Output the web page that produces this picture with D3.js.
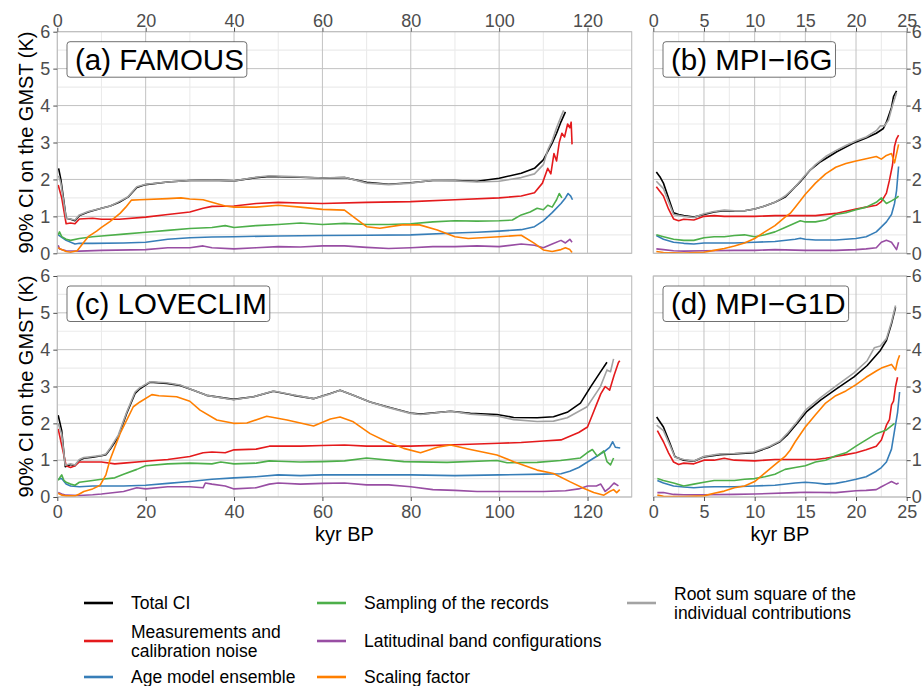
<!DOCTYPE html>
<html>
<head>
<meta charset="utf-8">
<script src="https://cdn.jsdelivr.net/npm/d3@7"></script>
<style>
  body { margin: 0; background: #fff; }
  text { font-family: "Liberation Sans", Arial, Helvetica, sans-serif; }
</style>
</head>
<body>
<svg id="chart" width="923" height="686"></svg>
<script>
// ---- series labels and colours (legend order) ----
const seriesLabels = [
  ["Total CI"],
  ["Measurements and", "calibration noise"],
  ["Age model ensemble"],
  ["Sampling of the records"],
  ["Latitudinal band configurations"],
  ["Scaling factor"],
  ["Root sum square of the", "individual contributions"]
];
const seriesColors = ["#000000", "#e41a1c", "#377eb8", "#4daf4a", "#984ea3", "#ff7f00", "#a3a3a3"];

// ---- (a) FAMOUS : [kyr BP, K] ----
const famousTotal = [[0.3,2.3],[0.8,2.0],[1.5,1.4],[2,0.95],[3,0.92],[4,0.88],[5,1.02],[7,1.12],[10,1.22],[12,1.28],[14,1.38],[16,1.52],[18,1.78],[20,1.86],[25,1.93],[30,1.97],[35,1.98],[40,1.96],[45,2.05],[48,2.08],[55,2.06],[60,2.04],[65,2.05],[70,1.92],[75,1.87],[80,1.91],[85,1.97],[90,1.97],[95,1.95],[100,2.03],[105,2.17],[108,2.3],[110,2.53],[112,2.98],[113,3.25],[114,3.56],[115,3.83]];
const famousNoise = [[0.2,1.85],[1,1.5],[2,0.8],[3,0.82],[4,0.8],[5,0.93],[8,0.95],[10,0.92],[14,0.92],[20,0.98],[25,1.05],[30,1.12],[33,1.22],[35,1.27],[40,1.28],[45,1.35],[50,1.38],[55,1.36],[60,1.35],[70,1.38],[80,1.4],[90,1.45],[100,1.5],[105,1.55],[108,1.64],[109.8,1.9],[111,2.3],[111.7,2.15],[112.4,2.7],[113,2.5],[113.6,3.0],[114.2,3.25],[114.8,3.15],[115.5,3.5],[116,3.4],[116.3,3.55],[116.5,2.95]];
const famousAge = [[0.2,0.5],[2,0.35],[4,0.25],[5,0.27],[8,0.27],[15,0.28],[20,0.3],[25,0.38],[30,0.42],[35,0.44],[40,0.45],[50,0.47],[60,0.48],[70,0.49],[80,0.5],[90,0.55],[95,0.57],[100,0.6],[105,0.64],[108,0.72],[110,0.88],[112,1.1],[114,1.35],[115,1.5],[115.6,1.62],[116.2,1.55],[116.6,1.45]];
const famousSampling = [[0.2,0.5],[0.5,0.58],[1,0.45],[2,0.38],[3,0.35],[5,0.4],[8,0.45],[10,0.47],[15,0.52],[20,0.57],[25,0.62],[30,0.67],[35,0.7],[38,0.75],[40,0.7],[45,0.75],[50,0.78],[55,0.82],[60,0.78],[65,0.81],[70,0.78],[75,0.78],[80,0.8],[85,0.85],[90,0.88],[95,0.87],[100,0.88],[103,0.9],[105,1.04],[107,1.12],[108.6,1.22],[110,1.18],[111,1.3],[112,1.25],[113,1.45],[113.6,1.62],[114.2,1.5]];
const famousBands = [[0.2,0.22],[0.5,0.12],[1,0.1],[2,0.07],[5,0.06],[10,0.08],[20,0.1],[25,0.15],[30,0.15],[33,0.2],[35,0.15],[40,0.12],[45,0.15],[50,0.18],[55,0.17],[60,0.2],[65,0.2],[70,0.16],[75,0.13],[80,0.15],[85,0.18],[90,0.18],[95,0.2],[100,0.18],[105,0.25],[108,0.22],[110,0.15],[112,0.25],[114,0.35],[115,0.28],[116,0.38],[116.5,0.3]];
const famousScaling = [[0.2,0.15],[1,0.1],[2,0.05],[3,0.03],[4.5,0.07],[6,0.3],[7,0.45],[8.9,0.6],[10,0.7],[11.9,0.86],[14.2,1.08],[15.5,1.25],[16.8,1.44],[18.7,1.45],[25,1.48],[28,1.5],[30,1.47],[33,1.45],[35,1.38],[38,1.28],[40,1.25],[45,1.25],[50,1.3],[55,1.25],[60,1.19],[65,1.17],[68,0.9],[70,0.72],[73,0.68],[78,0.77],[82,0.77],[86,0.63],[90,0.45],[93,0.4],[100,0.45],[105,0.49],[108,0.27],[110,0.09],[112,0.05],[114,0.1],[115,0.15],[116,0.1],[116.5,0.02]];
const famousRss = [[0.3,2.1],[0.8,1.9],[1.5,1.35],[2,0.95],[3,0.93],[4,0.9],[5,1.04],[7,1.13],[10,1.22],[12,1.28],[14,1.4],[16,1.53],[18,1.8],[20,1.87],[25,1.93],[30,1.97],[35,1.98],[40,1.96],[45,2.06],[48,2.1],[55,2.07],[60,2.04],[65,2.06],[70,1.9],[75,1.86],[80,1.9],[85,1.98],[90,1.96],[95,1.93],[100,1.95],[105,2.05],[108,2.15],[110,2.4],[111,2.8],[112,3.05],[113,3.4],[114,3.7],[114.6,3.87]];

// ---- (b) MPI-I6G ----
const i6gTotal = [[0.3,2.2],[0.7,2.05],[1,1.9],[1.5,1.5],[2,1.1],[2.5,1.05],[3,1.02],[4,0.98],[5,1.05],[6,1.12],[7,1.15],[8,1.15],[9,1.15],[10,1.2],[11,1.28],[12,1.38],[13,1.52],[14,1.8],[14.5,1.94],[15.5,2.26],[16.5,2.48],[18.1,2.75],[19.7,2.98],[21,3.12],[22,3.25],[22.7,3.38],[23,3.55],[23.5,3.95],[23.7,4.24],[24,4.4]];
const i6gNoise = [[0.3,1.8],[1,1.55],[1.5,1.2],[2,0.93],[2.5,0.88],[3,0.92],[4,0.9],[5,1.0],[6,1.02],[7,1.0],[8,1.0],[10,1.0],[12,1.02],[14,1.02],[16,1.02],[18,1.08],[20,1.2],[21,1.25],[22,1.3],[22.5,1.4],[23,1.63],[23.3,1.98],[23.6,2.39],[23.8,2.9],[24,3.1],[24.2,3.2]];
const i6gAge = [[0.3,0.48],[1,0.38],[2,0.3],[3,0.27],[4,0.25],[5,0.28],[8,0.28],[10,0.3],[12,0.32],[14,0.38],[14.5,0.41],[15,0.38],[16,0.36],[18,0.36],[20,0.4],[21,0.45],[22,0.58],[23,0.85],[23.5,1.05],[23.8,1.35],[24,1.7],[24.2,2.35]];
const i6gSampling = [[0.3,0.5],[1,0.45],[2,0.38],[3,0.35],[4,0.35],[5,0.42],[6,0.45],[7,0.45],[8,0.48],[9,0.5],[10,0.45],[11,0.5],[12,0.58],[13,0.7],[14,0.82],[14.5,0.88],[15,0.85],[16,0.85],[17,0.9],[18,1.05],[19,1.1],[20,1.18],[21,1.25],[22,1.38],[22.5,1.5],[23,1.35],[23.5,1.42],[24,1.5],[24.2,1.55]];
const i6gBands = [[0.3,0.12],[1,0.1],[2,0.07],[3,0.06],[5,0.07],[8,0.08],[10,0.08],[12,0.1],[15,0.08],[18,0.08],[20,0.1],[21,0.12],[22,0.15],[22.5,0.3],[23,0.35],[23.5,0.3],[24,0.1],[24.2,0.3]];
const i6gScaling = [[0.3,0.05],[1,0.02],[3,0.01],[5,0.03],[6,0.08],[7,0.13],[8,0.2],[9,0.28],[10,0.4],[11,0.58],[12,0.75],[13,0.98],[13.5,1.08],[14,1.25],[14.5,1.42],[15,1.6],[16,1.9],[17,2.15],[18,2.33],[19,2.43],[20,2.5],[21,2.56],[22,2.62],[22.5,2.55],[23,2.65],[23.5,2.7],[23.8,2.45],[24,2.7],[24.2,2.95]];
const i6gRss = [[0.3,1.95],[1,1.75],[1.5,1.4],[2,1.05],[3,1.0],[4,0.97],[5,1.07],[6,1.13],[7,1.17],[8,1.15],[9,1.15],[10,1.2],[11,1.28],[12,1.38],[13,1.55],[14,1.8],[15,2.12],[16,2.4],[17,2.62],[18,2.78],[19,2.92],[20,3.05],[21,3.15],[22,3.32],[22.4,3.45],[22.8,3.45],[23.2,3.6],[23.6,4.0],[24,4.35]];

// ---- (c) LOVECLIM ----
const lcTotal = [[0.2,2.22],[1,1.8],[1.8,0.82],[3,0.88],[4,0.85],[5,1.0],[6,1.05],[8,1.08],[10,1.12],[11,1.15],[12,1.3],[13.8,1.63],[15.7,2.27],[17.6,2.81],[18.7,2.94],[21,3.12],[24.8,3.08],[27.8,3.03],[30.8,2.9],[33.8,2.76],[39.9,2.65],[44.4,2.72],[48.9,2.87],[53.5,2.76],[58,2.67],[61.8,2.81],[64,2.9],[67,2.76],[70.8,2.58],[74.6,2.45],[79.9,2.28],[82.2,2.25],[89,2.33],[93.5,2.27],[99.5,2.24],[103.3,2.16],[108.6,2.15],[112.3,2.18],[115.4,2.3],[118.4,2.55],[120.7,2.99],[122.9,3.39],[124.4,3.66]];
const lcNoise = [[0.2,1.85],[1,1.4],[2,0.85],[3,0.8],[4,0.85],[5,0.95],[10,0.95],[13,0.9],[15,0.92],[20,0.97],[25,1.02],[30,1.1],[33,1.2],[35,1.22],[38,1.2],[40,1.28],[45,1.3],[48,1.38],[55,1.38],[60,1.4],[65,1.41],[70,1.38],[80,1.38],[90,1.42],[100,1.46],[105,1.48],[110,1.52],[114,1.55],[116,1.65],[118,1.75],[120,1.9],[121,2.2],[122,2.5],[123,2.8],[124,3.0],[125,2.9],[126,3.3],[127,3.65],[127.3,3.7]];
const lcAge = [[0.2,0.48],[1,0.5],[2,0.35],[3,0.3],[5,0.28],[8,0.3],[15,0.3],[20,0.32],[25,0.37],[30,0.42],[35,0.48],[40,0.52],[45,0.55],[50,0.6],[55,0.58],[60,0.6],[70,0.6],[80,0.6],[90,0.58],[100,0.6],[110,0.62],[114,0.63],[116,0.7],[118,0.8],[120,0.95],[122,1.1],[124,1.25],[125,1.35],[125.7,1.5],[126.3,1.35],[127.4,1.33]];
const lcSampling = [[0.2,0.45],[0.7,0.55],[1,0.6],[1.5,0.45],[2,0.4],[3,0.35],[4,0.32],[5,0.4],[8,0.45],[10,0.48],[13,0.52],[15,0.62],[18,0.75],[20,0.85],[25,0.9],[30,0.92],[35,0.9],[37,0.95],[40,0.9],[45,0.92],[48,0.98],[50,0.97],[55,0.95],[60,0.96],[65,0.98],[70,1.06],[78.4,0.96],[88.2,0.94],[99.5,0.99],[101.8,0.93],[108.6,0.94],[113.9,0.99],[118.4,1.06],[119.9,1.2],[121.1,1.29],[122.2,1.11],[123.7,1.25],[124.4,0.96],[125.2,0.87],[125.9,1.06]];
const lcBands = [[0.2,0.12],[1,0.08],[2,0.05],[5,0.04],[8,0.06],[10,0.08],[15,0.15],[18,0.25],[20,0.22],[25,0.28],[30,0.28],[33,0.25],[33.5,0.38],[35,0.35],[38,0.3],[40,0.22],[45,0.25],[48,0.35],[50,0.38],[55,0.35],[60,0.37],[65,0.38],[70,0.33],[75,0.33],[80,0.28],[85,0.2],[90,0.18],[95,0.15],[100,0.15],[110,0.15],[115,0.17],[118,0.22],[120,0.3],[122,0.3],[123,0.35],[124,0.15],[125,0.25],[126,0.38],[127,0.3]];
const lcScaling = [[0.2,0.1],[1,0.05],[2,0.03],[4,0.03],[5,0.08],[6,0.15],[8,0.22],[9.7,0.32],[11,0.6],[11.9,1.0],[14.2,1.72],[17.2,2.45],[18.7,2.58],[21.4,2.78],[23,2.75],[27,2.72],[30,2.6],[32.3,2.36],[36.1,2.09],[39.9,2.0],[42.9,2.01],[47.4,2.19],[52,2.09],[58,1.93],[61.8,2.12],[64,2.17],[67,2.04],[70.8,1.72],[74.6,1.5],[78.4,1.32],[82.2,1.2],[86,1.35],[89,1.41],[93.5,1.29],[99.5,1.14],[103.3,0.96],[108.6,0.73],[112.3,0.64],[116.1,0.41],[119.1,0.24],[121.4,0.12],[123.7,0.05],[125,0.15],[125.9,0.2],[126.6,0.12],[127.3,0.2]];
const lcRss = [[0.2,2.0],[1,1.7],[1.8,0.86],[3,0.9],[4,0.87],[5,1.02],[6,1.07],[8,1.1],[10,1.13],[11,1.17],[12,1.33],[13.8,1.68],[15.7,2.3],[17.6,2.85],[18.7,2.97],[21,3.13],[24.8,3.1],[27.8,3.04],[30.8,2.9],[33.8,2.76],[39.9,2.64],[44.4,2.72],[48.9,2.88],[53.5,2.77],[58,2.67],[61.8,2.8],[64,2.9],[67,2.76],[70.8,2.58],[74.6,2.44],[79.9,2.27],[82.2,2.24],[89,2.33],[93.5,2.25],[99.5,2.2],[103.3,2.1],[108.6,2.05],[112.3,2.06],[115.4,2.15],[119.9,2.45],[122.9,2.99],[124.4,3.45],[125.2,3.4],[125.9,3.75]];

// ---- (d) MPI-G1D ----
const g1dTotal = [[0.33,2.17],[1,1.9],[1.65,1.45],[2.14,1.09],[3,1.0],[4,0.97],[5,1.09],[6.6,1.15],[8,1.17],[9.9,1.2],[11.5,1.36],[12.5,1.5],[13.2,1.68],[14.2,2.0],[15.1,2.31],[16.5,2.63],[18.1,2.94],[19.8,3.26],[21.1,3.57],[22.4,3.98],[23,4.25],[23.5,4.7],[23.9,5.15]];
const g1dNoise = [[0.4,1.8],[1,1.5],[1.5,1.2],[2,0.95],[2.5,0.88],[3,0.92],[4,0.9],[5,1.0],[6,1.0],[7,1.05],[8,1.0],[10,0.98],[12,1.02],[14,1.02],[16,1.02],[17,1.05],[18,1.1],[19,1.15],[20,1.2],[21,1.28],[22,1.38],[22.5,1.55],[23,1.95],[23.3,2.1],[23.5,2.5],[23.7,2.6],[23.9,3.0],[24.1,3.25]];
const g1dAge = [[0.4,0.45],[1,0.38],[2,0.3],[3,0.27],[4,0.25],[5,0.27],[6,0.28],[8,0.28],[10,0.3],[12,0.32],[14,0.38],[15,0.4],[16,0.38],[17,0.35],[18,0.37],[19,0.42],[20,0.48],[21,0.55],[22,0.7],[22.5,0.8],[23,0.95],[23.5,1.3],[23.8,1.8],[24.1,2.3],[24.3,2.85]];
const g1dSampling = [[0.4,0.5],[1,0.45],[2,0.38],[3,0.3],[4,0.35],[5,0.4],[6,0.45],[7,0.45],[8,0.45],[9,0.48],[10,0.5],[11,0.55],[12,0.62],[13,0.75],[14,0.8],[15,0.85],[16,0.95],[17,1.0],[18,1.12],[19,1.2],[20,1.38],[21,1.55],[22,1.72],[23,1.82],[23.8,2.0]];
const g1dBands = [[0.4,0.12],[1,0.12],[2,0.07],[3,0.06],[5,0.06],[8,0.07],[10,0.08],[14,0.12],[15,0.13],[18,0.12],[20,0.17],[21,0.18],[22,0.2],[22.5,0.28],[23,0.35],[23.5,0.42],[24,0.35],[24.2,0.38]];
const g1dScaling = [[0.4,0.05],[1,0.02],[3,0.01],[5,0.03],[6,0.1],[7,0.16],[8,0.25],[9,0.3],[10,0.42],[11,0.65],[12,0.88],[13,1.1],[13.5,1.27],[14,1.5],[15,1.9],[16,2.23],[17,2.55],[18,2.75],[19,2.88],[20,3.05],[21,3.25],[22,3.42],[22.5,3.5],[23,3.55],[23.5,3.6],[23.9,3.45],[24.1,3.7],[24.3,3.85]];
const g1dRss = [[0.33,1.95],[1,1.8],[1.65,1.4],[2.14,1.08],[3,1.02],[4,0.98],[5,1.1],[6.6,1.17],[8,1.18],[9.9,1.22],[11.5,1.38],[12.5,1.52],[13.2,1.72],[14.2,2.05],[15.1,2.38],[16.5,2.7],[18.1,3.03],[19.8,3.37],[21.1,3.7],[21.8,4.05],[22.4,4.1],[23,4.3],[23.5,4.75],[23.9,5.2]];

// ---- panel layout ----
const leftX = [57.3, 631.7], rightX = [653.3, 906.7];
const topY = [31.7, 253.3], botY = [276, 497];
const yTicks = [0, 1, 2, 3, 4, 5, 6];

const panels = [
  { label: "(a) FAMOUS", xr: leftX, yr: topY, xMax: 130, xStep: 20, xAxis: "top", yAxis: "left",
    series: [famousTotal, famousNoise, famousAge, famousSampling, famousBands, famousScaling, famousRss] },
  { label: "(b) MPI\u2212I6G", xr: rightX, yr: topY, xMax: 25, xStep: 5, xAxis: "top", yAxis: "right",
    series: [i6gTotal, i6gNoise, i6gAge, i6gSampling, i6gBands, i6gScaling, i6gRss] },
  { label: "(c) LOVECLIM", xr: leftX, yr: botY, xMax: 130, xStep: 20, xAxis: "bottom", yAxis: "left",
    series: [lcTotal, lcNoise, lcAge, lcSampling, lcBands, lcScaling, lcRss] },
  { label: "(d) MPI\u2212G1D", xr: rightX, yr: botY, xMax: 25, xStep: 5, xAxis: "bottom", yAxis: "right",
    series: [g1dTotal, g1dNoise, g1dAge, g1dSampling, g1dBands, g1dScaling, g1dRss] }
];

const svg = d3.select("#chart");
const defs = svg.append("defs");
const fmt = d3.format("d");

panels.forEach((p, i) => {
  const x = d3.scaleLinear().domain([0, p.xMax]).range(p.xr);
  const y = d3.scaleLinear().domain([0, 6]).range([p.yr[1], p.yr[0]]);
  const g = svg.append("g");

  const majorX = d3.range(0, p.xMax + 0.001, p.xStep);
  const minorX = d3.range(p.xStep / 2, p.xMax + 0.001, p.xStep);

  // minor grid
  g.append("g").selectAll("line").data(minorX).join("line")
    .attr("x1", d => x(d)).attr("x2", d => x(d))
    .attr("y1", p.yr[0]).attr("y2", p.yr[1])
    .attr("stroke", "#ebebeb").attr("stroke-width", 1.1);
  g.append("g").selectAll("line").data(d3.range(0.5, 6, 1)).join("line")
    .attr("x1", p.xr[0]).attr("x2", p.xr[1])
    .attr("y1", d => y(d)).attr("y2", d => y(d))
    .attr("stroke", "#ebebeb").attr("stroke-width", 1.1);

  // major grid
  g.append("g").selectAll("line").data(majorX).join("line")
    .attr("x1", d => x(d)).attr("x2", d => x(d))
    .attr("y1", p.yr[0]).attr("y2", p.yr[1])
    .attr("stroke", "#c2c2c2").attr("stroke-width", 1);
  g.append("g").selectAll("line").data(yTicks).join("line")
    .attr("x1", p.xr[0]).attr("x2", p.xr[1])
    .attr("y1", d => y(d)).attr("y2", d => y(d))
    .attr("stroke", "#c2c2c2").attr("stroke-width", 1);

  // clip + lines
  defs.append("clipPath").attr("id", "clip" + i).append("rect")
    .attr("x", p.xr[0]).attr("y", p.yr[0])
    .attr("width", p.xr[1] - p.xr[0]).attr("height", p.yr[1] - p.yr[0]);

  const line = d3.line().x(d => x(d[0])).y(d => y(d[1]));
  g.append("g").attr("clip-path", `url(#clip${i})`)
    .selectAll("path").data(p.series).join("path")
    .attr("d", line)
    .attr("fill", "none")
    .attr("stroke", (d, k) => seriesColors[k])
    .attr("stroke-width", 1.6)
    .attr("stroke-linejoin", "round");

  // panel border
  g.append("rect")
    .attr("x", p.xr[0]).attr("y", p.yr[0])
    .attr("width", p.xr[1] - p.xr[0]).attr("height", p.yr[1] - p.yr[0])
    .attr("fill", "none").attr("stroke", "#bdbdbd").attr("stroke-width", 1);

  // axes
  const styleAxis = sel => {
    sel.select(".domain").remove();
    sel.selectAll(".tick line").attr("stroke", "#4d4d4d");
    sel.selectAll(".tick text").attr("fill", "#4d4d4d")
      .style("font-size", "18px").style("font-family", '"Liberation Sans", Arial, sans-serif');
  };

  if (p.xAxis === "top") {
    g.append("g").attr("transform", `translate(0,${p.yr[0]})`)
      .call(d3.axisTop(x).tickValues(majorX).tickFormat(fmt).tickSize(4).tickPadding(1))
      .call(styleAxis);
  } else {
    g.append("g").attr("transform", `translate(0,${p.yr[1]})`)
      .call(d3.axisBottom(x).tickValues(majorX).tickFormat(fmt).tickSize(4).tickPadding(4))
      .call(styleAxis);
  }
  if (p.yAxis === "left") {
    g.append("g").attr("transform", `translate(${p.xr[0]},0)`)
      .call(d3.axisLeft(y).tickValues(yTicks).tickFormat(fmt).tickSize(4).tickPadding(3))
      .call(styleAxis);
  } else {
    g.append("g").attr("transform", `translate(${p.xr[1]},0)`)
      .call(d3.axisRight(y).tickValues(yTicks).tickFormat(fmt).tickSize(4).tickPadding(1))
      .call(styleAxis);
  }

  // panel label
  const lg = g.append("g");
  const rect = lg.append("rect");
  const txt = lg.append("text")
    .attr("x", p.xr[0] + 17.7).attr("y", p.yr[0] + 38.3)
    .attr("fill", "#000").style("font-size", "29.5px")
    .text(p.label);
  const bb = txt.node().getBBox();
  rect.attr("x", bb.x - 8).attr("y", p.yr[0] + 10)
    .attr("width", bb.width + 11).attr("height", 35.5)
    .attr("rx", 3).attr("ry", 3)
    .attr("fill", "#fff").attr("stroke", "#333").attr("stroke-width", 0.7);
});

// y axis titles
[topY, botY].forEach(r => {
  const cy = (r[0] + r[1]) / 2;
  svg.append("text")
    .attr("transform", `translate(32.5,${cy}) rotate(-90)`)
    .attr("text-anchor", "middle")
    .style("font-size", "20px").attr("fill", "#000")
    .text("90% CI on the GMST (K)");
});

// x axis titles
[leftX, rightX].forEach(r => {
  svg.append("text")
    .attr("x", (r[0] + r[1]) / 2).attr("y", 541)
    .attr("text-anchor", "middle")
    .style("font-size", "20px").attr("fill", "#000")
    .text("kyr BP");
});

// legend
const legendCols = [84, 317, 627];
const legendRows = [603, 641, 677];
const legendPos = [[0, 0], [0, 1], [0, 2], [1, 0], [1, 1], [1, 2], [2, 0]];
const legend = svg.append("g");
seriesLabels.forEach((lab, k) => {
  const cx = legendCols[legendPos[k][0]];
  const cy = legendRows[legendPos[k][1]];
  legend.append("line")
    .attr("x1", cx).attr("x2", cx + 29)
    .attr("y1", cy).attr("y2", cy)
    .attr("stroke", seriesColors[k]).attr("stroke-width", 2.6);
  const t = legend.append("text")
    .attr("x", cx + 47).attr("fill", "#000")
    .style("font-size", "17.5px");
  const lh = 19;
  const first = cy - (lab.length - 1) * lh / 2 + 6.2;
  lab.forEach((s, j) => {
    t.append("tspan").attr("x", cx + 47).attr("y", first + j * lh).text(s);
  });
});
</script>
</body>
</html>
